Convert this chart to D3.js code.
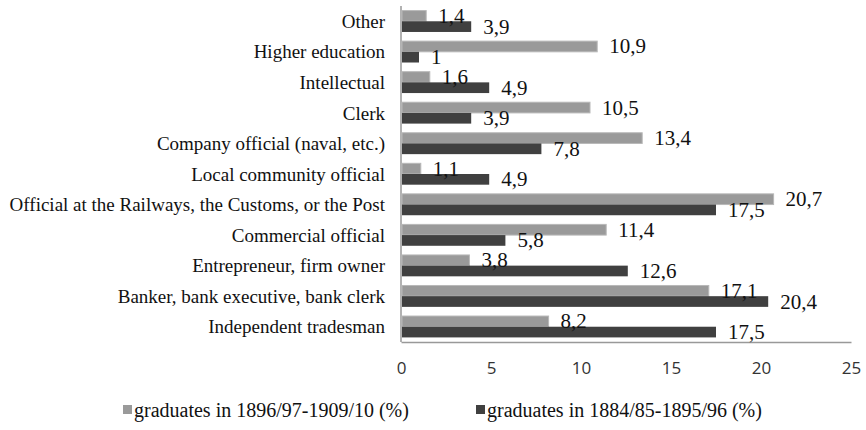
<!DOCTYPE html>
<html>
<head>
<meta charset="utf-8">
<script src="https://cdn.jsdelivr.net/npm/d3@7"></script>
<style>
  body { margin: 0; background: #fff; }
  text { font-family: "Liberation Serif", "Times New Roman", serif; fill: #111; }
  .tick text { font-family: "Open Sans", "Liberation Sans", sans-serif; fill: #333; }
</style>
</head>
<body>
<div id="container"></div>
<script>
const categories = ["Other", "Higher education", "Intellectual", "Clerk", "Company official (naval, etc.)", "Local community official", "Official at the Railways, the Customs, or the Post", "Commercial official", "Entrepreneur, firm owner", "Banker, bank executive, bank clerk", "Independent tradesman"];
const recent = [1.4, 10.9, 1.6, 10.5, 13.4, 1.1, 20.7, 11.4, 3.8, 17.1, 8.2];
const earlier = [3.9, 1, 4.9, 3.9, 7.8, 4.9, 17.5, 5.8, 12.6, 20.4, 17.5];
const seriesNames = ["graduates in 1896/97-1909/10 (%)", "graduates in 1884/85-1895/96 (%)"];
const xTicks = [0, 5, 10, 15, 20, 25];

const width = 866;
const height = 430;
const padding = {top: 6, bot: 88, left: 401, right: 15};
const colors = ["#9a9a9a", "#404040"];

const svg = d3.select("#container")
              .append("svg")
              .attr("width", width)
              .attr("height", height);

const xScale = d3.scaleLinear()
                 .domain([0, 25])
                 .range([padding.left, width - padding.right]);
const yScale = d3.scaleBand()
                 .domain(categories)
                 .range([padding.top, height - padding.bot])
                 .paddingInner(0.3)
                 .paddingOuter(0.15);
const sub = d3.scaleBand()
              .domain([0, 1])
              .range([0, yScale.bandwidth()]);

// x axis, no tick marks
const xAxis = d3.axisBottom(xScale)
                .tickValues(xTicks)
                .tickSize(0)
                .tickPadding(20);
const gx = svg.append("g")
              .attr("transform", "translate(0, " + (height - padding.bot) + ")")
              .call(xAxis);
gx.select(".domain").attr("stroke", "#999").attr("stroke-width", 1.5);
gx.selectAll(".tick text").style("font-size", "17px");

// y axis line and category labels
svg.append("line")
   .attr("x1", padding.left).attr("x2", padding.left)
   .attr("y1", padding.top).attr("y2", height - padding.bot)
   .attr("stroke", "#999").attr("stroke-width", 1.5);

svg.append("g")
   .selectAll("text")
   .data(categories)
   .enter()
   .append("text")
   .attr("x", padding.left - 16)
   .attr("y", (d) => yScale(d) + yScale.bandwidth() / 2)
   .attr("dy", "0.35em")
   .attr("text-anchor", "end")
   .style("font-size", "19px")
   .text((d) => d);

const rows = categories.map((c, i) => ({cat: c, vals: [recent[i], earlier[i]]}));

const groups = svg.append("g")
                  .selectAll("g")
                  .data(rows)
                  .enter()
                  .append("g")
                  .attr("transform", (d) => "translate(0, " + yScale(d.cat) + ")");

groups.selectAll("rect")
      .data((d) => d.vals.map((v, j) => ({v: v, j: j})))
      .enter()
      .append("rect")
      .attr("x", xScale(0) + 1)
      .attr("y", (d) => sub(d.j))
      .attr("width", (d) => xScale(d.v) - xScale(0) - 1)
      .attr("height", sub.bandwidth())
      .attr("fill", (d) => colors[d.j])
      .attr("stroke", (d) => d.j == 0 ? "#b8b8b8" : "none")
      .attr("stroke-width", 1);

groups.selectAll("text")
      .data((d) => d.vals.map((v, j) => ({v: v, j: j})))
      .enter()
      .append("text")
      .attr("x", (d) => xScale(d.v) + 12)
      .attr("y", (d) => sub(d.j) + sub.bandwidth() / 2 + 7)
      .style("font-size", "21px")
      .text((d) => String(d.v).replace(".", ","));

// legend
const legendX = [123, 476];
const legend = svg.append("g")
                  .selectAll("g")
                  .data(seriesNames)
                  .enter()
                  .append("g")
                  .attr("transform", (d, i) => "translate(" + legendX[i] + ", 410)");
legend.append("rect")
      .attr("x", 0).attr("y", -5)
      .attr("width", 9).attr("height", 9)
      .attr("fill", (d, i) => colors[i]);
legend.append("text")
      .attr("x", 11)
      .attr("y", 0)
      .attr("dy", "0.35em")
      .style("font-size", "20px")
      .text((d) => d);
</script>
</body>
</html>
